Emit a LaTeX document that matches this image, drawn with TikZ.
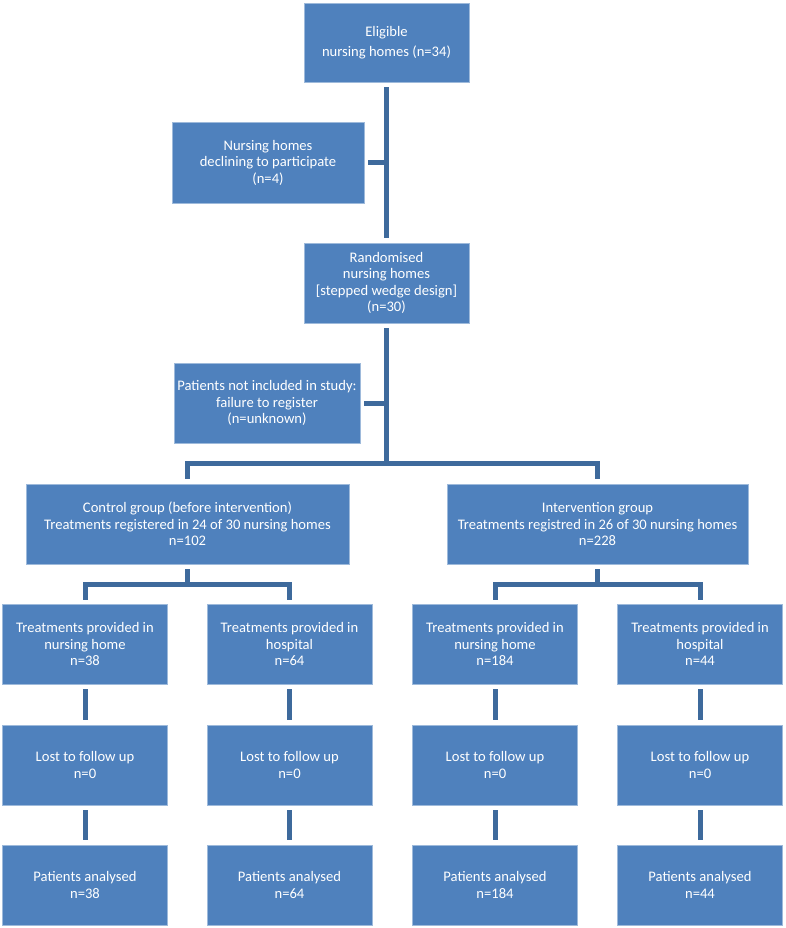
\documentclass[tikz,border=0pt]{standalone}
\usepackage{fontspec}
\setmainfont{Carlito}
\usepackage{tikz}
\usetikzlibrary{positioning,calc}
\definecolor{flowblue}{HTML}{4F81BD}
\definecolor{flowline}{HTML}{3E6A9C}

\begin{document}
\begin{tikzpicture}[x=1pt, y=-1pt,
    box/.style={draw=flowblue!55!white, line width=0.6pt, fill=flowblue, text=white, minimum width=165pt, minimum height=80pt, inner sep=2pt, align=center, font=\fontsize{14.6}{16.5}\selectfont},
    conn/.style={draw=flowline, line width=5pt, shorten <=5pt, shorten >=5pt}
]
    \useasboundingbox (0,0) rectangle (785,928);

    % enrolment
    \node[box, minimum height=79pt] (elig) at (386.5,42.5) {Eligible\\[3pt]nursing homes (n=34)};
    \node[box, minimum width=192pt, minimum height=81pt] (decl) at (268,162.5) {Nursing homes\\declining to participate\\(n=4)};
    \node[box] (rand) at (386.5,283) {Randomised\\nursing homes\\{[stepped wedge design]}\\(n=30)};
    \node[box, minimum width=186pt] (notinc) at (267,403) {Patients not included in study:\\failure to register\\(n=unknown)};

    % groups
    \node[box, minimum width=323pt] (ctrl) at (187.5,524) {Control group (before intervention)\\Treatments registered in 24 of 30 nursing homes\\n=102};
    \node[box, minimum width=301pt] (intv) at (597.5,524) {Intervention group\\Treatments registred in 26 of 30 nursing homes\\n=228};

    % treatments
    \node[box] (ctrlnh) at (85,644) {Treatments provided in\\nursing home\\n=38};
    \node[box] (ctrlhosp) at (289.5,644) {Treatments provided in\\hospital\\n=64};
    \node[box] (intvnh) at (495,644) {Treatments provided in\\nursing home\\n=184};
    \node[box] (intvhosp) at (700,644) {Treatments provided in\\hospital\\n=44};

    % follow up
    \node[box] (ctrlnhlost) at (85,765) {Lost to follow up\\n=0};
    \node[box] (ctrlhosplost) at (289.5,765) {Lost to follow up\\n=0};
    \node[box] (intvnhlost) at (495,765) {Lost to follow up\\n=0};
    \node[box] (intvhosplost) at (700,765) {Lost to follow up\\n=0};

    % analysis
    \node[box] (ctrlnhan) at (85,885) {Patients analysed\\n=38};
    \node[box] (ctrlhospan) at (289.5,885) {Patients analysed\\n=64};
    \node[box] (intvnhan) at (495,885) {Patients analysed\\n=184};
    \node[box] (intvhospan) at (700,885) {Patients analysed\\n=44};

    % junctions
    \coordinate (split) at (386.5,463);
    \coordinate (ctrljn) at (187.5,584);
    \coordinate (intvjn) at (597.5,584);

    \draw[conn] (elig) -- (rand);
    \draw[conn, shorten <=4pt, shorten >=0pt] (decl.east) -- (decl.east -| elig.south);
    \draw[conn, shorten >=0pt] (rand) -- (split);
    \draw[conn, shorten <=4pt, shorten >=0pt] (notinc.east) -- (notinc.east -| split);
    \draw[conn] (ctrl.north) |- (split) -| (intv.north);

    \draw[conn, shorten >=0pt] (ctrl.south) -- (ctrljn);
    \draw[conn, shorten <=4pt, shorten >=4pt] (ctrlnh.north) |- (ctrljn) -| (ctrlhosp.north);
    \draw[conn, shorten >=0pt] (intv.south) -- (intvjn);
    \draw[conn, shorten <=4pt, shorten >=4pt] (intvnh.north) |- (intvjn) -| (intvhosp.north);

    \foreach \col in {ctrlnh, ctrlhosp, intvnh, intvhosp} {
        \draw[conn] (\col) -- (\col lost);
        \draw[conn] (\col lost) -- (\col an);
    }
\end{tikzpicture}
\end{document}
